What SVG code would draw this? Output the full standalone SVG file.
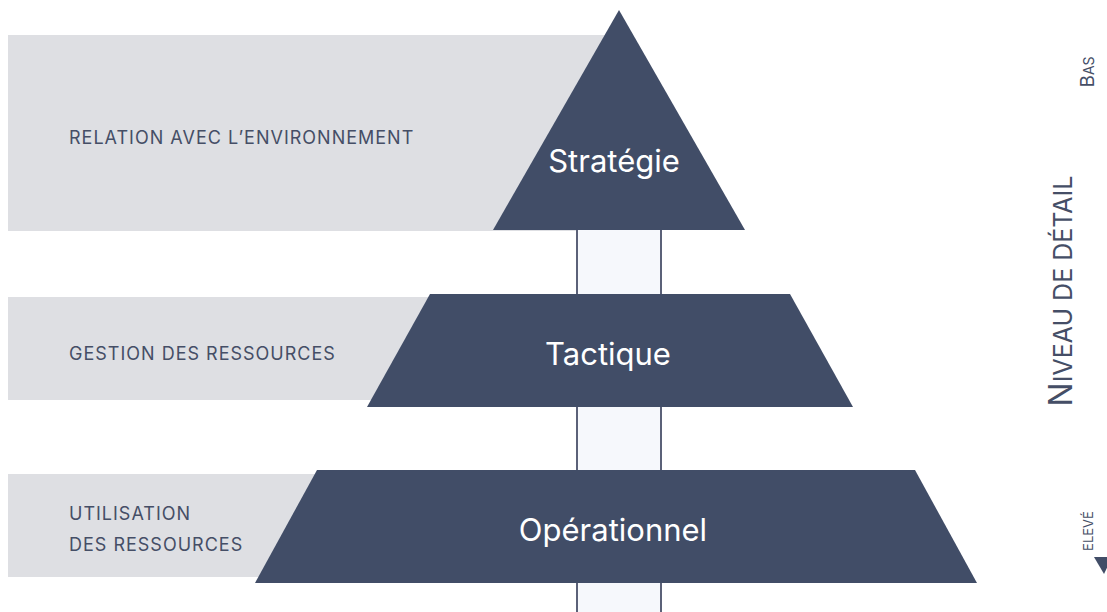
<svg xmlns="http://www.w3.org/2000/svg" width="1107" height="612" viewBox="0 0 1107 612">
  <style>
    .band { fill: #dedfe3; }
    .tier { fill: #414d67; }
    .side { font-family: Inter, "Liberation Sans", sans-serif; font-size: 18px; letter-spacing: 1px; fill: #454e66; }
    .tier-label { font-family: Inter, "Liberation Sans", sans-serif; font-size: 31px; fill: #ffffff; text-anchor: middle; }
    .axis { font-family: Inter, "Liberation Sans", sans-serif; fill: #454e66; text-anchor: middle; }
  </style>
  <rect width="1107" height="612" fill="#ffffff"/>

  <!-- grey description bands behind each tier -->
  <g id="bands">
    <rect class="band" x="8" y="35" width="610" height="196"/>
    <rect class="band" x="8" y="297" width="430" height="103"/>
    <rect class="band" x="8" y="474" width="320" height="103"/>
  </g>

  <!-- central column linking the tiers -->
  <g id="connectors">
    <rect x="577" y="229" width="84" height="390" fill="#f6f8fc" stroke="#5b6178" stroke-width="2"/>
  </g>

  <g id="strategie">
    <polygon class="tier" points="619,10 745,230 493,230"/>
    <text class="tier-label" x="614" y="172">Stratégie</text>
    <text class="side" x="69" y="144">RELATION AVEC L’ENVIRONNEMENT</text>
  </g>

  <g id="tactique">
    <polygon class="tier" points="430,294 790,294 853,407 367,407"/>
    <text class="tier-label" x="608" y="365">Tactique</text>
    <text class="side" x="69" y="360">GESTION DES RESSOURCES</text>
  </g>

  <g id="operationnel">
    <polygon class="tier" points="317,470 915,470 977,583 255,583"/>
    <text class="tier-label" x="613" y="541">Opérationnel</text>
    <text class="side" x="69" y="520">UTILISATION</text>
    <text class="side" x="69" y="551">DES RESSOURCES</text>
  </g>

  <!-- level-of-detail axis -->
  <g id="axis">
    <text class="axis" transform="translate(1072,291) rotate(-90)"><tspan font-size="32">N</tspan><tspan font-size="25">IVEAU DE DÉTAIL</tspan></text>
    <text class="axis" transform="translate(1094,72) rotate(-90)"><tspan font-size="19">B</tspan><tspan font-size="14">AS</tspan></text>
    <text class="axis" transform="translate(1093,531) rotate(-90)" font-size="13">ELEVÉ</text>
    <polygon points="1094,557 1112,557 1104,574" fill="#414d67"/>
  </g>
</svg>
